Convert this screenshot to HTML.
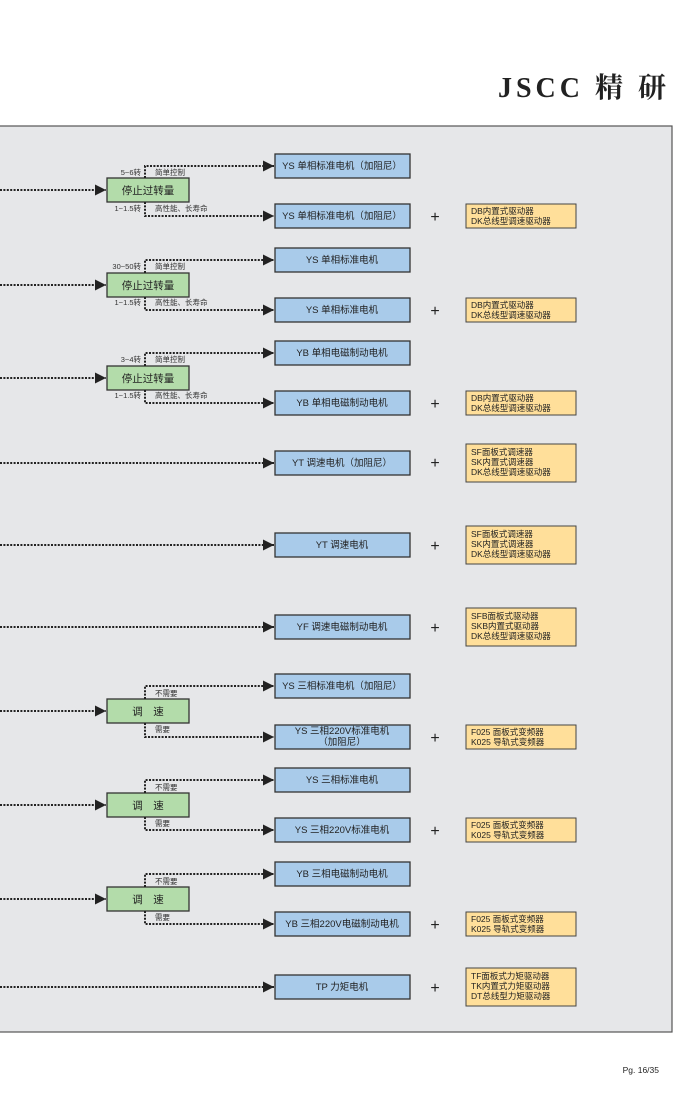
<!DOCTYPE html>
<html><head><meta charset="utf-8"><style>
body{margin:0;width:689px;height:1095px;background:#fff;overflow:hidden}
svg{display:block}
text{font-family:"Liberation Sans","Noto Sans CJK SC",sans-serif;fill:#222}
.b{fill:#a9cbea;stroke:#333;stroke-width:1.3}
.g{fill:#b3dcaa;stroke:#333;stroke-width:1.3}
.o{fill:#ffdf9a;stroke:#444;stroke-width:1}
.d{stroke:#222;stroke-width:2;stroke-dasharray:2 1.4;fill:none}
.bt{font-size:9.5px;text-anchor:middle}
.gt{font-size:10.5px;text-anchor:middle}
.ot{font-size:8.5px}
.s{font-size:7.5px;fill:#333}
.p{font-size:16px;text-anchor:middle}
</style></head><body>
<svg width="689" height="1095" viewBox="0 0 689 1095">
<defs><marker id="a" markerWidth="12" markerHeight="12" refX="11" refY="6" orient="auto" markerUnits="userSpaceOnUse"><path d="M0,0.5 L11,6 L0,11.5z" fill="#222"/></marker></defs>
<text x="670" y="97" style="font-family:'Liberation Serif','Noto Serif CJK SC',serif;font-size:28px;font-weight:bold;text-anchor:end;letter-spacing:4px">JSCC 精 研</text>
<rect x="-2" y="126" width="674" height="906" fill="#e6e7e9" stroke="#555" stroke-width="1.2"/>
<text x="659" y="1073" style="font-size:8.5px;text-anchor:end">Pg. 16/35</text>

<g>
<path class="d" d="M0 190 H106" marker-end="url(#a)"/>
<rect class="g" x="107" y="178" width="82" height="24"/><text class="gt" x="148" y="194">停止过转量</text>
<path class="d" d="M145 178 V166 H274" marker-end="url(#a)"/>
<path class="d" d="M145 202 V216 H274" marker-end="url(#a)"/>
<text class="s" x="141" y="175" text-anchor="end">5~6转</text><text class="s" x="155" y="175">简单控制</text>
<text class="s" x="141" y="211" text-anchor="end">1~1.5转</text><text class="s" x="155" y="211">高性能、长寿命</text>
<path class="d" d="M0 285 H106" marker-end="url(#a)"/>
<rect class="g" x="107" y="273" width="82" height="24"/><text class="gt" x="148" y="289">停止过转量</text>
<path class="d" d="M145 273 V260 H274" marker-end="url(#a)"/>
<path class="d" d="M145 297 V310 H274" marker-end="url(#a)"/>
<text class="s" x="141" y="269" text-anchor="end">30~50转</text><text class="s" x="155" y="269">简单控制</text>
<text class="s" x="141" y="305" text-anchor="end">1~1.5转</text><text class="s" x="155" y="305">高性能、长寿命</text>
<path class="d" d="M0 378 H106" marker-end="url(#a)"/>
<rect class="g" x="107" y="366" width="82" height="24"/><text class="gt" x="148" y="382">停止过转量</text>
<path class="d" d="M145 366 V353 H274" marker-end="url(#a)"/>
<path class="d" d="M145 390 V403 H274" marker-end="url(#a)"/>
<text class="s" x="141" y="362" text-anchor="end">3~4转</text><text class="s" x="155" y="362">简单控制</text>
<text class="s" x="141" y="398" text-anchor="end">1~1.5转</text><text class="s" x="155" y="398">高性能、长寿命</text>
<path class="d" d="M0 711 H106" marker-end="url(#a)"/>
<rect class="g" x="107" y="699" width="82" height="24"/><text class="gt" x="148" y="715">调　速</text>
<path class="d" d="M145 699 V686 H274" marker-end="url(#a)"/>
<path class="d" d="M145 723 V737 H274" marker-end="url(#a)"/>
<text class="s" x="155" y="696">不需要</text><text class="s" x="155" y="732">需要</text>
<path class="d" d="M0 805 H106" marker-end="url(#a)"/>
<rect class="g" x="107" y="793" width="82" height="24"/><text class="gt" x="148" y="809">调　速</text>
<path class="d" d="M145 793 V780 H274" marker-end="url(#a)"/>
<path class="d" d="M145 817 V830 H274" marker-end="url(#a)"/>
<text class="s" x="155" y="790">不需要</text><text class="s" x="155" y="826">需要</text>
<path class="d" d="M0 899 H106" marker-end="url(#a)"/>
<rect class="g" x="107" y="887" width="82" height="24"/><text class="gt" x="148" y="903">调　速</text>
<path class="d" d="M145 887 V874 H274" marker-end="url(#a)"/>
<path class="d" d="M145 911 V924 H274" marker-end="url(#a)"/>
<text class="s" x="155" y="884">不需要</text><text class="s" x="155" y="920">需要</text>
<path class="d" d="M0 463 H274" marker-end="url(#a)"/>
<path class="d" d="M0 545 H274" marker-end="url(#a)"/>
<path class="d" d="M0 627 H274" marker-end="url(#a)"/>
<path class="d" d="M0 987 H274" marker-end="url(#a)"/>
</g>

<g>
<rect class="b" x="275" y="154" width="135" height="24"/><text class="bt" x="342" y="169">YS 单相标准电机（加阻尼）</text>
<rect class="b" x="275" y="204" width="135" height="24"/><text class="bt" x="342" y="219">YS 单相标准电机（加阻尼）</text>
<rect class="b" x="275" y="248" width="135" height="24"/><text class="bt" x="342" y="263">YS 单相标准电机</text>
<rect class="b" x="275" y="298" width="135" height="24"/><text class="bt" x="342" y="313">YS 单相标准电机</text>
<rect class="b" x="275" y="341" width="135" height="24"/><text class="bt" x="342" y="356">YB 单相电磁制动电机</text>
<rect class="b" x="275" y="391" width="135" height="24"/><text class="bt" x="342" y="406">YB 单相电磁制动电机</text>
<rect class="b" x="275" y="451" width="135" height="24"/><text class="bt" x="342" y="466">YT 调速电机（加阻尼）</text>
<rect class="b" x="275" y="533" width="135" height="24"/><text class="bt" x="342" y="548">YT 调速电机</text>
<rect class="b" x="275" y="615" width="135" height="24"/><text class="bt" x="342" y="630">YF 调速电磁制动电机</text>
<rect class="b" x="275" y="674" width="135" height="24"/><text class="bt" x="342" y="689">YS 三相标准电机（加阻尼）</text>
<rect class="b" x="275" y="725" width="135" height="24"/><text class="bt" x="342" y="734">YS 三相220V标准电机</text><text class="bt" x="342" y="745">（加阻尼）</text>
<rect class="b" x="275" y="768" width="135" height="24"/><text class="bt" x="342" y="783">YS 三相标准电机</text>
<rect class="b" x="275" y="818" width="135" height="24"/><text class="bt" x="342" y="833">YS 三相220V标准电机</text>
<rect class="b" x="275" y="862" width="135" height="24"/><text class="bt" x="342" y="877">YB 三相电磁制动电机</text>
<rect class="b" x="275" y="912" width="135" height="24"/><text class="bt" x="342" y="927">YB 三相220V电磁制动电机</text>
<rect class="b" x="275" y="975" width="135" height="24"/><text class="bt" x="342" y="990">TP 力矩电机</text>
</g>

<g>
<text class="p" x="435" y="222">+</text><text class="p" x="435" y="316">+</text><text class="p" x="435" y="409">+</text>
<text class="p" x="435" y="468">+</text><text class="p" x="435" y="551">+</text><text class="p" x="435" y="633">+</text>
<text class="p" x="435" y="743">+</text><text class="p" x="435" y="836">+</text><text class="p" x="435" y="930">+</text>
<text class="p" x="435" y="993">+</text>
</g>

<g>
<rect class="o" x="466" y="204" width="110" height="24"/><text class="ot" x="471" y="214">DB内置式驱动器</text><text class="ot" x="471" y="224">DK总线型调速驱动器</text>
<rect class="o" x="466" y="298" width="110" height="24"/><text class="ot" x="471" y="308">DB内置式驱动器</text><text class="ot" x="471" y="318">DK总线型调速驱动器</text>
<rect class="o" x="466" y="391" width="110" height="24"/><text class="ot" x="471" y="401">DB内置式驱动器</text><text class="ot" x="471" y="411">DK总线型调速驱动器</text>
<rect class="o" x="466" y="444" width="110" height="38"/><text class="ot" x="471" y="455">SF面板式调速器</text><text class="ot" x="471" y="465">SK内置式调速器</text><text class="ot" x="471" y="475">DK总线型调速驱动器</text>
<rect class="o" x="466" y="526" width="110" height="38"/><text class="ot" x="471" y="537">SF面板式调速器</text><text class="ot" x="471" y="547">SK内置式调速器</text><text class="ot" x="471" y="557">DK总线型调速驱动器</text>
<rect class="o" x="466" y="608" width="110" height="38"/><text class="ot" x="471" y="619">SFB面板式驱动器</text><text class="ot" x="471" y="629">SKB内置式驱动器</text><text class="ot" x="471" y="639">DK总线型调速驱动器</text>
<rect class="o" x="466" y="725" width="110" height="24"/><text class="ot" x="471" y="735">F025 面板式变频器</text><text class="ot" x="471" y="745">K025 导轨式变频器</text>
<rect class="o" x="466" y="818" width="110" height="24"/><text class="ot" x="471" y="828">F025 面板式变频器</text><text class="ot" x="471" y="838">K025 导轨式变频器</text>
<rect class="o" x="466" y="912" width="110" height="24"/><text class="ot" x="471" y="922">F025 面板式变频器</text><text class="ot" x="471" y="932">K025 导轨式变频器</text>
<rect class="o" x="466" y="968" width="110" height="38"/><text class="ot" x="471" y="979">TF面板式力矩驱动器</text><text class="ot" x="471" y="989">TK内置式力矩驱动器</text><text class="ot" x="471" y="999">DT总线型力矩驱动器</text>
</g>
</svg>
</body></html>
